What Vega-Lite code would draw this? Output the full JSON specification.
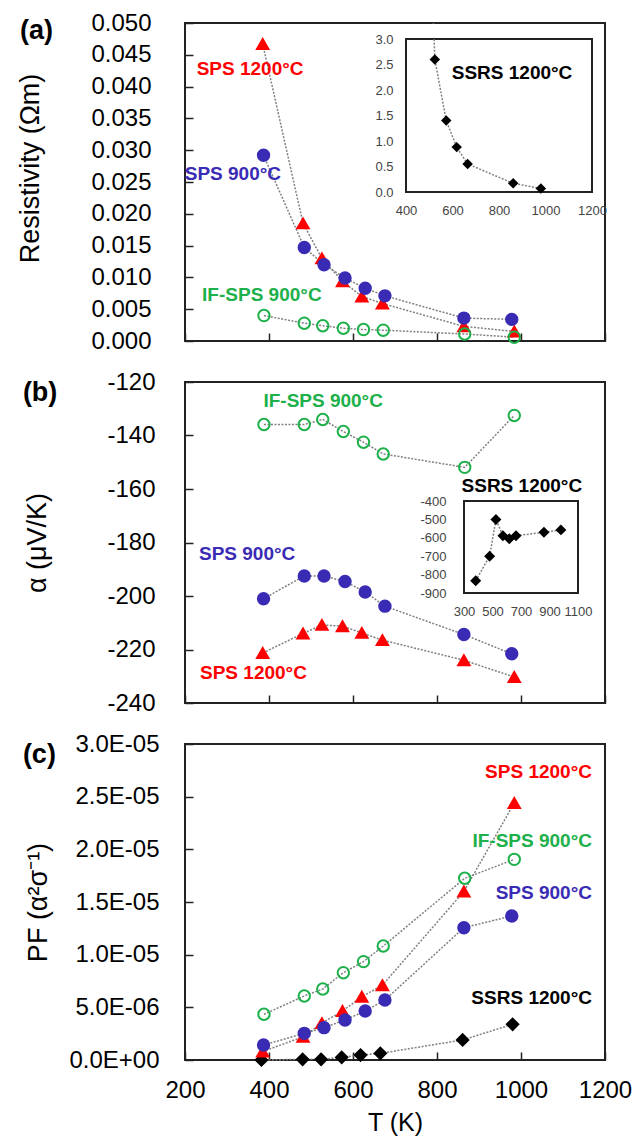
{
  "$schema": "https://vega.github.io/schema/vega-lite/v6.json",
  "padding": {"left": 15, "top": 10, "right": 5, "bottom": 0},
  "spacing": 15,
  "config": {
    "font": "Liberation Sans",
    "view": {"stroke": "#222", "strokeWidth": 2},
    "axis": {
      "domain": false, "grid": false, "ticks": true, "tickSize": -8, "tickColor": "#222", "tickWidth": 1.5,
      "labelFont": "Liberation Sans", "labelFontSize": 24, "labelColor": "#000",
      "titleFont": "Liberation Sans", "titleFontSize": 27, "titleFontWeight": "normal", "titleColor": "#000"
    }
  },
  "datasets": {
    "rho": [
      {"sample": "SPS 1200°C", "T": 385, "v": 0.0467},
      {"sample": "SPS 1200°C", "T": 481, "v": 0.0185},
      {"sample": "SPS 1200°C", "T": 526, "v": 0.0130},
      {"sample": "SPS 1200°C", "T": 575, "v": 0.0094},
      {"sample": "SPS 1200°C", "T": 621, "v": 0.0070},
      {"sample": "SPS 1200°C", "T": 670, "v": 0.0059},
      {"sample": "SPS 1200°C", "T": 864, "v": 0.0023},
      {"sample": "SPS 1200°C", "T": 984, "v": 0.0015},
      {"sample": "SPS 900°C", "T": 387, "v": 0.0292},
      {"sample": "SPS 900°C", "T": 484, "v": 0.0147},
      {"sample": "SPS 900°C", "T": 531, "v": 0.0120},
      {"sample": "SPS 900°C", "T": 581, "v": 0.0099},
      {"sample": "SPS 900°C", "T": 629, "v": 0.0083},
      {"sample": "SPS 900°C", "T": 676, "v": 0.0071},
      {"sample": "SPS 900°C", "T": 864, "v": 0.0036},
      {"sample": "SPS 900°C", "T": 978, "v": 0.0034},
      {"sample": "IF-SPS 900°C", "T": 388, "v": 0.0040},
      {"sample": "IF-SPS 900°C", "T": 484, "v": 0.0028},
      {"sample": "IF-SPS 900°C", "T": 528, "v": 0.0024},
      {"sample": "IF-SPS 900°C", "T": 577, "v": 0.0020},
      {"sample": "IF-SPS 900°C", "T": 625, "v": 0.0018},
      {"sample": "IF-SPS 900°C", "T": 672, "v": 0.0017},
      {"sample": "IF-SPS 900°C", "T": 866, "v": 0.0011},
      {"sample": "IF-SPS 900°C", "T": 984, "v": 0.0006}
    ],
    "rhoInset": [
      {"sample": "SSRS 1200°C", "T": 480, "v": 8.0},
      {"sample": "SSRS 1200°C", "T": 524, "v": 2.6},
      {"sample": "SSRS 1200°C", "T": 573, "v": 1.4},
      {"sample": "SSRS 1200°C", "T": 618, "v": 0.88},
      {"sample": "SSRS 1200°C", "T": 665, "v": 0.55},
      {"sample": "SSRS 1200°C", "T": 861, "v": 0.17},
      {"sample": "SSRS 1200°C", "T": 980, "v": 0.07}
    ],
    "alpha": [
      {"sample": "SPS 1200°C", "T": 385, "v": -221.3},
      {"sample": "SPS 1200°C", "T": 481, "v": -214.0},
      {"sample": "SPS 1200°C", "T": 526, "v": -210.8},
      {"sample": "SPS 1200°C", "T": 575, "v": -211.3},
      {"sample": "SPS 1200°C", "T": 621, "v": -213.8},
      {"sample": "SPS 1200°C", "T": 670, "v": -216.5},
      {"sample": "SPS 1200°C", "T": 864, "v": -224.0},
      {"sample": "SPS 1200°C", "T": 984, "v": -230.3},
      {"sample": "SPS 900°C", "T": 387, "v": -201.0},
      {"sample": "SPS 900°C", "T": 484, "v": -192.5},
      {"sample": "SPS 900°C", "T": 531, "v": -192.5},
      {"sample": "SPS 900°C", "T": 581, "v": -194.6},
      {"sample": "SPS 900°C", "T": 629, "v": -198.5},
      {"sample": "SPS 900°C", "T": 676, "v": -203.8},
      {"sample": "SPS 900°C", "T": 864, "v": -214.4},
      {"sample": "SPS 900°C", "T": 978, "v": -221.6},
      {"sample": "IF-SPS 900°C", "T": 388, "v": -135.9},
      {"sample": "IF-SPS 900°C", "T": 484, "v": -135.9},
      {"sample": "IF-SPS 900°C", "T": 528, "v": -134.0},
      {"sample": "IF-SPS 900°C", "T": 577, "v": -138.5},
      {"sample": "IF-SPS 900°C", "T": 625, "v": -142.5},
      {"sample": "IF-SPS 900°C", "T": 672, "v": -146.9},
      {"sample": "IF-SPS 900°C", "T": 866, "v": -151.9},
      {"sample": "IF-SPS 900°C", "T": 984, "v": -132.5}
    ],
    "alphaInset": [
      {"sample": "SSRS 1200°C", "T": 382, "v": -833},
      {"sample": "SSRS 1200°C", "T": 480, "v": -700},
      {"sample": "SSRS 1200°C", "T": 524, "v": -500},
      {"sample": "SSRS 1200°C", "T": 573, "v": -589},
      {"sample": "SSRS 1200°C", "T": 618, "v": -605},
      {"sample": "SSRS 1200°C", "T": 665, "v": -589},
      {"sample": "SSRS 1200°C", "T": 861, "v": -570},
      {"sample": "SSRS 1200°C", "T": 980, "v": -557}
    ],
    "pf": [
      {"sample": "SSRS 1200°C", "T": 382, "v": 0.0},
      {"sample": "SSRS 1200°C", "T": 480, "v": 0.06e-6},
      {"sample": "SSRS 1200°C", "T": 524, "v": 0.06e-6},
      {"sample": "SSRS 1200°C", "T": 573, "v": 0.25e-6},
      {"sample": "SSRS 1200°C", "T": 618, "v": 0.47e-6},
      {"sample": "SSRS 1200°C", "T": 665, "v": 0.63e-6},
      {"sample": "SSRS 1200°C", "T": 861, "v": 1.9e-6},
      {"sample": "SSRS 1200°C", "T": 980, "v": 3.39e-6},
      {"sample": "SPS 1200°C", "T": 385, "v": 0.8e-6},
      {"sample": "SPS 1200°C", "T": 481, "v": 2.2e-6},
      {"sample": "SPS 1200°C", "T": 526, "v": 3.5e-6},
      {"sample": "SPS 1200°C", "T": 575, "v": 4.65e-6},
      {"sample": "SPS 1200°C", "T": 621, "v": 6.0e-6},
      {"sample": "SPS 1200°C", "T": 670, "v": 7.1e-6},
      {"sample": "SPS 1200°C", "T": 864, "v": 1.6e-5},
      {"sample": "SPS 1200°C", "T": 984, "v": 2.44e-5},
      {"sample": "SPS 900°C", "T": 387, "v": 1.42e-6},
      {"sample": "SPS 900°C", "T": 484, "v": 2.53e-6},
      {"sample": "SPS 900°C", "T": 531, "v": 3.07e-6},
      {"sample": "SPS 900°C", "T": 581, "v": 3.8e-6},
      {"sample": "SPS 900°C", "T": 629, "v": 4.65e-6},
      {"sample": "SPS 900°C", "T": 676, "v": 5.7e-6},
      {"sample": "SPS 900°C", "T": 864, "v": 1.256e-5},
      {"sample": "SPS 900°C", "T": 978, "v": 1.367e-5},
      {"sample": "IF-SPS 900°C", "T": 388, "v": 4.34e-6},
      {"sample": "IF-SPS 900°C", "T": 484, "v": 6.08e-6},
      {"sample": "IF-SPS 900°C", "T": 528, "v": 6.74e-6},
      {"sample": "IF-SPS 900°C", "T": 577, "v": 8.29e-6},
      {"sample": "IF-SPS 900°C", "T": 625, "v": 9.34e-6},
      {"sample": "IF-SPS 900°C", "T": 672, "v": 1.082e-5},
      {"sample": "IF-SPS 900°C", "T": 866, "v": 1.725e-5},
      {"sample": "IF-SPS 900°C", "T": 984, "v": 1.905e-5}
    ],
    "labA": [
      {"sample": "SPS 1200°C", "label": "SPS 1200°C", "T": 355, "v": 0.0428},
      {"sample": "SPS 900°C", "label": "SPS 900°C", "T": 314, "v": 0.0263},
      {"sample": "IF-SPS 900°C", "label": "IF-SPS 900°C", "T": 383, "v": 0.00723}
    ],
    "labAInset": [
      {"sample": "SSRS 1200°C", "label": "SSRS 1200°C", "T": 856, "v": 2.33}
    ],
    "labB": [
      {"sample": "IF-SPS 900°C", "label": "IF-SPS 900°C", "T": 529, "v": -127.1},
      {"sample": "SPS 900°C", "label": "SPS 900°C", "T": 348, "v": -184.3},
      {"sample": "SPS 1200°C", "label": "SPS 1200°C", "T": 363, "v": -228.8},
      {"sample": "SSRS 1200°C", "label": "SSRS 1200°C", "T": 1002, "v": -158.9}
    ],
    "labC": [
      {"sample": "SPS 1200°C", "label": "SPS 1200°C", "T": 1169, "v": 2.734e-5},
      {"sample": "IF-SPS 900°C", "label": "IF-SPS 900°C", "T": 1169, "v": 2.079e-5},
      {"sample": "SPS 900°C", "label": "SPS 900°C", "T": 1169, "v": 1.585e-5},
      {"sample": "SSRS 1200°C", "label": "SSRS 1200°C", "T": 1169, "v": 5.89e-6}
    ],
    "tagA": [{"label": "(a)", "T": -193, "v": 0.0487}],
    "tagB": [{"label": "(b)", "T": -186, "v": -124.1}],
    "tagC": [{"label": "(c)", "T": -186, "v": 2.896e-5}],
    "frameA": [{"x1": 400, "x2": 1200, "y1": 0, "y2": 3}],
    "maskA": [{"x1": 470, "x2": 560, "y1": 3.025, "y2": 3.29}],
    "frameB": [{"x1": 300, "x2": 1100, "y1": -900, "y2": -400}]
  },
  "vconcat": [
    {
      "width": 420, "height": 318,
      "layer": [
        {
          "encoding": {
            "x": {"field": "T", "type": "quantitative", "scale": {"domain": [200, 1200], "nice": false, "zero": false}, "axis": {"values": [200, 400, 600, 800, 1000, 1200], "labels": false, "title": null}},
            "y": {"field": "v", "type": "quantitative", "scale": {"domain": [0, 0.05], "nice": false}, "axis": {"values": [0, 0.005, 0.01, 0.015, 0.02, 0.025, 0.03, 0.035, 0.04, 0.045, 0.05], "format": ".3f", "title": "Resistivity (Ωm)", "labelPadding": 42, "titlePadding": 46, "titleY": 145}}
          },
          "layer": [
            {"data": {"name": "rho"}, "mark": {"type": "line", "color": "#808080", "strokeWidth": 1.5, "strokeDash": [2, 1.5]}, "encoding": {"detail": {"field": "sample"}}},
            {"data": {"name": "rho"}, "mark": {"type": "point", "filled": true, "strokeWidth": 2, "size": 130, "opacity": 1},
              "encoding": {
                "shape": {"field": "sample", "scale": {"domain": ["SSRS 1200°C", "SPS 1200°C", "SPS 900°C", "IF-SPS 900°C"], "range": ["diamond", "triangle-up", "circle", "circle"]}, "legend": null},
                "fill": {"field": "sample", "scale": {"domain": ["SSRS 1200°C", "SPS 1200°C", "SPS 900°C", "IF-SPS 900°C"], "range": ["#000000", "#FF0000", "#3A2BB5", "transparent"]}, "legend": null},
                "stroke": {"field": "sample", "scale": {"domain": ["SSRS 1200°C", "SPS 1200°C", "SPS 900°C", "IF-SPS 900°C"], "range": ["#000000", "#FF0000", "#3A2BB5", "#1DB04B"]}, "legend": null}
              }},
            {"data": {"name": "labA"}, "mark": {"type": "text", "fontWeight": "bold", "fontSize": 19, "font": "Liberation Sans"},
              "encoding": {"text": {"field": "label"}, "color": {"field": "sample", "scale": {"domain": ["SSRS 1200°C", "SPS 1200°C", "SPS 900°C", "IF-SPS 900°C"], "range": ["#000000", "#FF0000", "#3A2BB5", "#1DB04B"]}, "legend": null}}},
            {"data": {"name": "tagA"}, "mark": {"type": "text", "fontWeight": "bold", "fontSize": 27, "font": "Liberation Sans", "align": "left", "color": "#000"},
              "encoding": {"text": {"field": "label"}}}
          ]
        },
        {
          "layer": [
            {"data": {"name": "frameA"}, "mark": {"type": "rect", "fill": "#ffffff", "stroke": "#222", "strokeWidth": 2},
              "encoding": {
                "x": {"field": "x1", "type": "quantitative", "scale": {"domain": [400, 1200], "range": [221, 407], "nice": false, "zero": false},
                  "axis": {"orient": "bottom", "offset": -149, "values": [400, 600, 800, 1000, 1200], "format": "d", "labelFlush": false, "labelOverlap": false, "title": null, "labelFontSize": 13, "labelColor": "#444", "tickSize": -4, "tickWidth": 1, "labelPadding": 16}},
                "x2": {"field": "x2"},
                "y": {"field": "y1", "type": "quantitative", "scale": {"domain": [0, 3], "range": [169, 16], "nice": false},
                  "axis": {"orient": "left", "offset": -221, "values": [0, 0.5, 1, 1.5, 2, 2.5, 3], "format": ".1f", "title": null, "labelFontSize": 13, "labelColor": "#444", "tickSize": -4, "tickWidth": 1, "labelPadding": 17}},
                "y2": {"field": "y2"}
              }},
            {"data": {"name": "rhoInset"}, "mark": {"type": "line", "color": "#808080", "strokeWidth": 1.5, "strokeDash": [2, 1.5], "clip": true},
              "encoding": {"x": {"field": "T", "type": "quantitative"}, "y": {"field": "v", "type": "quantitative"}}},
            {"data": {"name": "maskA"}, "mark": {"type": "rect", "fill": "#ffffff", "strokeWidth": 0},
              "encoding": {"x": {"field": "x1", "type": "quantitative"}, "x2": {"field": "x2"}, "y": {"field": "y1", "type": "quantitative"}, "y2": {"field": "y2"}}},
            {"data": {"name": "rhoInset"}, "transform": [{"filter": "datum.v <= 3"}], "mark": {"type": "point", "shape": "diamond", "filled": true, "color": "#000", "size": 110, "opacity": 1},
              "encoding": {"x": {"field": "T", "type": "quantitative"}, "y": {"field": "v", "type": "quantitative"}}},
            {"data": {"name": "labAInset"}, "mark": {"type": "text", "fontWeight": "bold", "fontSize": 19, "font": "Liberation Sans", "color": "#000"},
              "encoding": {"x": {"field": "T", "type": "quantitative"}, "y": {"field": "v", "type": "quantitative"}, "text": {"field": "label"}}}
          ]
        }
      ],
      "resolve": {"scale": {"x": "independent", "y": "independent"}, "axis": {"x": "independent", "y": "independent"}}
    },
    {
      "width": 420, "height": 321,
      "layer": [
        {
          "encoding": {
            "x": {"field": "T", "type": "quantitative", "scale": {"domain": [200, 1200], "nice": false, "zero": false}, "axis": {"values": [200, 400, 600, 800, 1000, 1200], "labels": false, "title": null}},
            "y": {"field": "v", "type": "quantitative", "scale": {"domain": [-240, -120], "nice": false, "zero": false}, "axis": {"values": [-240, -220, -200, -180, -160, -140, -120], "labelExpr": "'' + datum.value", "title": "α (μV/K)", "labelPadding": 38, "titlePadding": 55}}
          },
          "layer": [
            {"data": {"name": "alpha"}, "mark": {"type": "line", "color": "#808080", "strokeWidth": 1.5, "strokeDash": [2, 1.5]}, "encoding": {"detail": {"field": "sample"}}},
            {"data": {"name": "alpha"}, "mark": {"type": "point", "filled": true, "strokeWidth": 2, "size": 130, "opacity": 1},
              "encoding": {
                "shape": {"field": "sample", "scale": {"domain": ["SSRS 1200°C", "SPS 1200°C", "SPS 900°C", "IF-SPS 900°C"], "range": ["diamond", "triangle-up", "circle", "circle"]}, "legend": null},
                "fill": {"field": "sample", "scale": {"domain": ["SSRS 1200°C", "SPS 1200°C", "SPS 900°C", "IF-SPS 900°C"], "range": ["#000000", "#FF0000", "#3A2BB5", "transparent"]}, "legend": null},
                "stroke": {"field": "sample", "scale": {"domain": ["SSRS 1200°C", "SPS 1200°C", "SPS 900°C", "IF-SPS 900°C"], "range": ["#000000", "#FF0000", "#3A2BB5", "#1DB04B"]}, "legend": null}
              }},
            {"data": {"name": "labB"}, "mark": {"type": "text", "fontWeight": "bold", "fontSize": 19, "font": "Liberation Sans"},
              "encoding": {"text": {"field": "label"}, "color": {"field": "sample", "scale": {"domain": ["SSRS 1200°C", "SPS 1200°C", "SPS 900°C", "IF-SPS 900°C"], "range": ["#000000", "#FF0000", "#3A2BB5", "#1DB04B"]}, "legend": null}}},
            {"data": {"name": "tagB"}, "mark": {"type": "text", "fontWeight": "bold", "fontSize": 27, "font": "Liberation Sans", "align": "left", "color": "#000"},
              "encoding": {"text": {"field": "label"}}}
          ]
        },
        {
          "layer": [
            {"data": {"name": "frameB"}, "mark": {"type": "rect", "fill": "#ffffff", "stroke": "#222", "strokeWidth": 2},
              "encoding": {
                "x": {"field": "x1", "type": "quantitative", "scale": {"domain": [300, 1100], "range": [279, 393], "nice": false, "zero": false},
                  "axis": {"orient": "bottom", "offset": -110, "values": [300, 500, 700, 900, 1100], "format": "d", "labelFlush": false, "labelOverlap": false, "title": null, "labelFontSize": 13, "labelColor": "#444", "tickSize": -4, "tickWidth": 1, "labelPadding": 16}},
                "x2": {"field": "x2"},
                "y": {"field": "y1", "type": "quantitative", "scale": {"domain": [-900, -400], "range": [211, 119], "nice": false, "zero": false},
                  "axis": {"orient": "left", "offset": -279, "values": [-900, -800, -700, -600, -500, -400], "labelExpr": "'' + datum.value", "title": null, "labelFontSize": 13, "labelColor": "#444", "tickSize": -4, "tickWidth": 1, "labelPadding": 22}},
                "y2": {"field": "y2"}
              }},
            {"data": {"name": "alphaInset"}, "mark": {"type": "line", "color": "#808080", "strokeWidth": 1.5, "strokeDash": [2, 1.5]},
              "encoding": {"x": {"field": "T", "type": "quantitative"}, "y": {"field": "v", "type": "quantitative"}}},
            {"data": {"name": "alphaInset"}, "mark": {"type": "point", "shape": "diamond", "filled": true, "color": "#000", "size": 120, "opacity": 1},
              "encoding": {"x": {"field": "T", "type": "quantitative"}, "y": {"field": "v", "type": "quantitative"}}}
          ]
        }
      ],
      "resolve": {"scale": {"x": "independent", "y": "independent"}, "axis": {"x": "independent", "y": "independent"}}
    },
    {
      "width": 420, "height": 316,
      "encoding": {
        "x": {"field": "T", "type": "quantitative", "scale": {"domain": [200, 1200], "nice": false, "zero": false}, "axis": {"values": [200, 400, 600, 800, 1000, 1200], "format": "d", "labelFlush": false, "labelOverlap": false, "title": "T (K)", "titleFontSize": 25, "labelPadding": 26, "titlePadding": 8}},
        "y": {"field": "v", "type": "quantitative", "scale": {"domain": [0, 3e-5], "nice": false}, "axis": {"values": [0, 5e-6, 1e-5, 1.5e-5, 2e-5, 2.5e-5, 3e-5], "labelExpr": "datum.value == 0 ? '0.0E+00' : (datum.value < 9.9e-6 ? format(datum.value * 1e6, '.1f') + 'E-06' : format(datum.value * 1e5, '.1f') + 'E-05')", "title": "PF (α²σ⁻¹)", "labelPadding": 34, "titlePadding": 16}}
      },
      "layer": [
        {"data": {"name": "pf"}, "mark": {"type": "line", "color": "#808080", "strokeWidth": 1.5, "strokeDash": [2, 1.5]}, "encoding": {"detail": {"field": "sample"}}},
        {"data": {"name": "pf"}, "mark": {"type": "point", "filled": true, "strokeWidth": 2, "size": 130, "opacity": 1},
          "encoding": {
            "shape": {"field": "sample", "scale": {"domain": ["SSRS 1200°C", "SPS 1200°C", "SPS 900°C", "IF-SPS 900°C"], "range": ["diamond", "triangle-up", "circle", "circle"]}, "legend": null},
            "fill": {"field": "sample", "scale": {"domain": ["SSRS 1200°C", "SPS 1200°C", "SPS 900°C", "IF-SPS 900°C"], "range": ["#000000", "#FF0000", "#3A2BB5", "transparent"]}, "legend": null},
            "stroke": {"field": "sample", "scale": {"domain": ["SSRS 1200°C", "SPS 1200°C", "SPS 900°C", "IF-SPS 900°C"], "range": ["#000000", "#FF0000", "#3A2BB5", "#1DB04B"]}, "legend": null}
          }},
        {"data": {"name": "labC"}, "mark": {"type": "text", "fontWeight": "bold", "fontSize": 19, "font": "Liberation Sans", "align": "right"},
          "encoding": {"text": {"field": "label"}, "color": {"field": "sample", "scale": {"domain": ["SSRS 1200°C", "SPS 1200°C", "SPS 900°C", "IF-SPS 900°C"], "range": ["#000000", "#FF0000", "#3A2BB5", "#1DB04B"]}, "legend": null}}},
        {"data": {"name": "tagC"}, "mark": {"type": "text", "fontWeight": "bold", "fontSize": 27, "font": "Liberation Sans", "align": "left", "color": "#000"},
          "encoding": {"text": {"field": "label"}}}
      ]
    }
  ]
}
